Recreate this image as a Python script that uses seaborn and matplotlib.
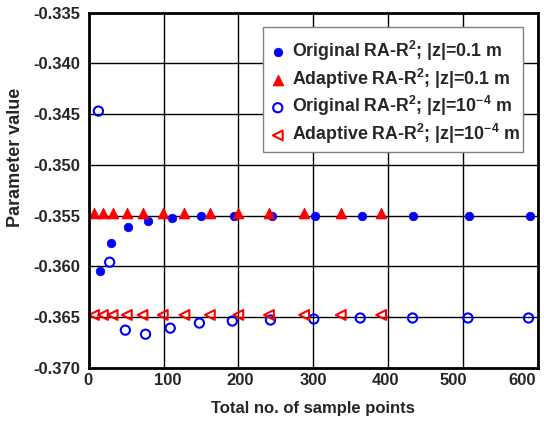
import matplotlib
matplotlib.use("Agg")
import matplotlib.pyplot as plt
import matplotlib.transforms as mtransforms
from matplotlib.patches import Rectangle
import seaborn as sns

# Data
orig_01_x = [15, 30, 52, 79, 112, 150, 194, 245, 302, 365, 434, 508, 590]
orig_01_y = [-0.3605, -0.3577, -0.3561, -0.3555, -0.3552, -0.35506, -0.3550,
             -0.3550, -0.3550, -0.3550, -0.3550, -0.3550, -0.3550]

adap_01_x = [7, 19, 32, 51, 72, 99, 128, 162, 200, 241, 288, 337, 391]
adap_01_y = [-0.3547] * 13

orig_1e4_x = [13, 28, 49, 76, 109, 148, 192, 243, 301, 363, 433, 507, 588]
orig_1e4_y = [-0.3447, -0.3596, -0.3663, -0.3667, -0.3661, -0.3656, -0.3654,
              -0.3653, -0.3652, -0.3651, -0.3651, -0.3651, -0.3651]

adap_1e4_x = [7, 19, 32, 51, 72, 99, 128, 162, 200, 241, 288, 337, 391]
adap_1e4_y = [-0.3648] * 13

labels = ["Original RA-R$^{\\mathbf{2}}$; |z|=0.1 m",
          "Adaptive RA-R$^{\\mathbf{2}}$; |z|=0.1 m",
          "Original RA-R$^{\\mathbf{2}}$; |z|=10$^{\\mathbf{-4}}$ m",
          "Adaptive RA-R$^{\\mathbf{2}}$; |z|=10$^{\\mathbf{-4}}$ m"]

x_ticks = [0, 100, 200, 300, 400, 500, 600]
y_ticks = [-0.370, -0.365, -0.360, -0.355, -0.350, -0.345, -0.340, -0.335]

sns.set_style("white")
plt.rcParams['font.family'] = ['Liberation Sans', 'DejaVu Sans']
plt.rcParams['font.weight'] = 'bold'
plt.rcParams['mathtext.fontset'] = 'custom'
plt.rcParams['mathtext.rm'] = 'Liberation Sans:bold'
plt.rcParams['mathtext.bf'] = 'Liberation Sans:bold'
plt.rcParams['mathtext.default'] = 'bf'

W, H = 544, 424
fig = plt.figure(figsize=(W / 100, H / 100), dpi=100)
ax = fig.add_axes([88.7 / W, 1 - 367.7 / H, (537.5 - 88.7) / W, (367.7 - 12.7) / H])

blue = "#0000FF"
red = "#FF0000"

sns.scatterplot(x=orig_01_x, y=orig_01_y, ax=ax, marker='o', s=38, color=blue,
                edgecolor=blue, linewidth=0.5, label=labels[0], zorder=5, clip_on=False)
sns.scatterplot(x=adap_01_x, y=adap_01_y, ax=ax, marker='^', s=62, color=red,
                edgecolor=red, linewidth=0.5, label=labels[1], zorder=5, clip_on=False)
sns.scatterplot(x=orig_1e4_x, y=orig_1e4_y, ax=ax, marker='o', s=44, facecolor='none',
                edgecolor=blue, linewidth=1.5, label=labels[2], zorder=5, clip_on=False)
sns.scatterplot(x=adap_1e4_x, y=adap_1e4_y, ax=ax, marker='<', s=50, facecolor='none',
                edgecolor=red, linewidth=1.5, label=labels[3], zorder=5, clip_on=False)

ax.set_xlim(0, 600)
ax.set_ylim(-0.370, -0.335)
ax.set_xticks(x_ticks)
ax.set_yticks(y_ticks)
ax.set_xticklabels([str(t) for t in x_ticks])
ax.set_yticklabels([f"{t:.3f}" for t in y_ticks])
ax.grid(True, color='black', linewidth=1.0)
ax.set_axisbelow(True)
for sp in ax.spines.values():
    sp.set_linewidth(2.0)
    sp.set_color('black')
    sp.set_zorder(8)
ax.tick_params(axis='both', length=0, labelsize=12)
ax.tick_params(axis='y', pad=6.3)
ax.tick_params(axis='x', pad=4)
for lab in ax.get_xticklabels() + ax.get_yticklabels():
    lab.set_fontweight('bold')

# small horizontal offsets (pixels) of the x tick labels as in the reference
x_offsets = [-0.7, 3.8, 2.3, 0.5, -2.5, -9.0, -15.5]
for lab, dx in zip(ax.get_xticklabels(), x_offsets):
    lab.set_transform(lab.get_transform() +
                      mtransforms.ScaledTranslation(dx / 100, 0, fig.dpi_scale_trans))

ax.set_xlabel("Total no. of sample points", fontsize=12, fontweight='bold', labelpad=9)
ax.set_ylabel("Parameter value", fontsize=13, fontweight='bold')
ax.yaxis.set_label_coords((16 - 88.7) / (537.5 - 88.7), (367.7 - 157) / 355)
ax.yaxis.label.set_va('center')

# legend box (frame drawn separately to get the reference padding)
box = Rectangle((263 / W, 1 - 152 / H), (523 - 263) / W, (152 - 26.7) / H,
                transform=fig.transFigure, facecolor='white',
                edgecolor='#808080', linewidth=1.0, zorder=6, clip_on=False)
ax.add_patch(box)
leg = ax.legend(loc='upper left', bbox_to_anchor=(268 / W, 1 - 39 / H),
                bbox_transform=fig.transFigure, fontsize=12.8, frameon=False,
                handletextpad=0.25, labelspacing=0.2, borderpad=0.0,
                borderaxespad=0.0, handlelength=1.1)
leg.set_zorder(7)
for t in leg.get_texts():
    t.set_fontweight('bold')

fig.savefig("out.png", dpi=100)
